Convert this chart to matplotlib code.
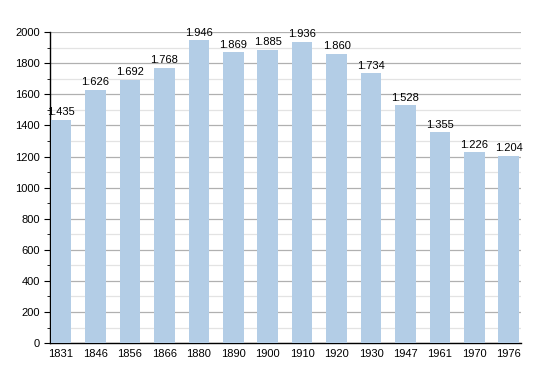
import matplotlib.pyplot as plt
from matplotlib.ticker import MultipleLocator

years = ['1831', '1846', '1856', '1866', '1880', '1890', '1900',
         '1910', '1920', '1930', '1947', '1961', '1970', '1976']
population = [1435, 1626, 1692, 1768, 1946, 1869, 1885,
              1936, 1860, 1734, 1528, 1355, 1226, 1204]

plt.rcParams['font.family'] = ['Liberation Sans', 'DejaVu Sans']

fig = plt.figure(figsize=(5.5, 3.73), dpi=100)
ax = fig.add_axes([0.091, 0.080, 0.856, 0.834])

x = range(len(years))
ax.bar(x, population, width=0.6, color='#b3cde6', zorder=3)

for xi, v in zip(x, population):
    lbl = f'{v:,}'.replace(',', '.')
    ax.text(xi, v + 18, lbl, ha='center', va='bottom', fontsize=8, zorder=4)

ax.set_xlim(-0.32, 13.35)
ax.set_ylim(0, 2000)
ax.set_xticks(list(x))
ax.set_xticklabels(years)
ax.yaxis.set_major_locator(MultipleLocator(200))
ax.yaxis.set_minor_locator(MultipleLocator(100))
ax.grid(axis='y', which='major', color='#b0b0b0', linewidth=0.9, zorder=0)
ax.grid(axis='y', which='minor', color='#e3e3e3', linewidth=0.9, zorder=0)
ax.tick_params(axis='x', length=0, labelsize=8, pad=4)
ax.tick_params(axis='y', which='major', length=4, labelsize=8)
ax.tick_params(axis='y', which='minor', length=2)
for s in ['top', 'right']:
    ax.spines[s].set_visible(False)
ax.spines['left'].set_linewidth(1.0)
ax.spines['bottom'].set_linewidth(1.0)

fig.savefig('out.png', dpi=100)
